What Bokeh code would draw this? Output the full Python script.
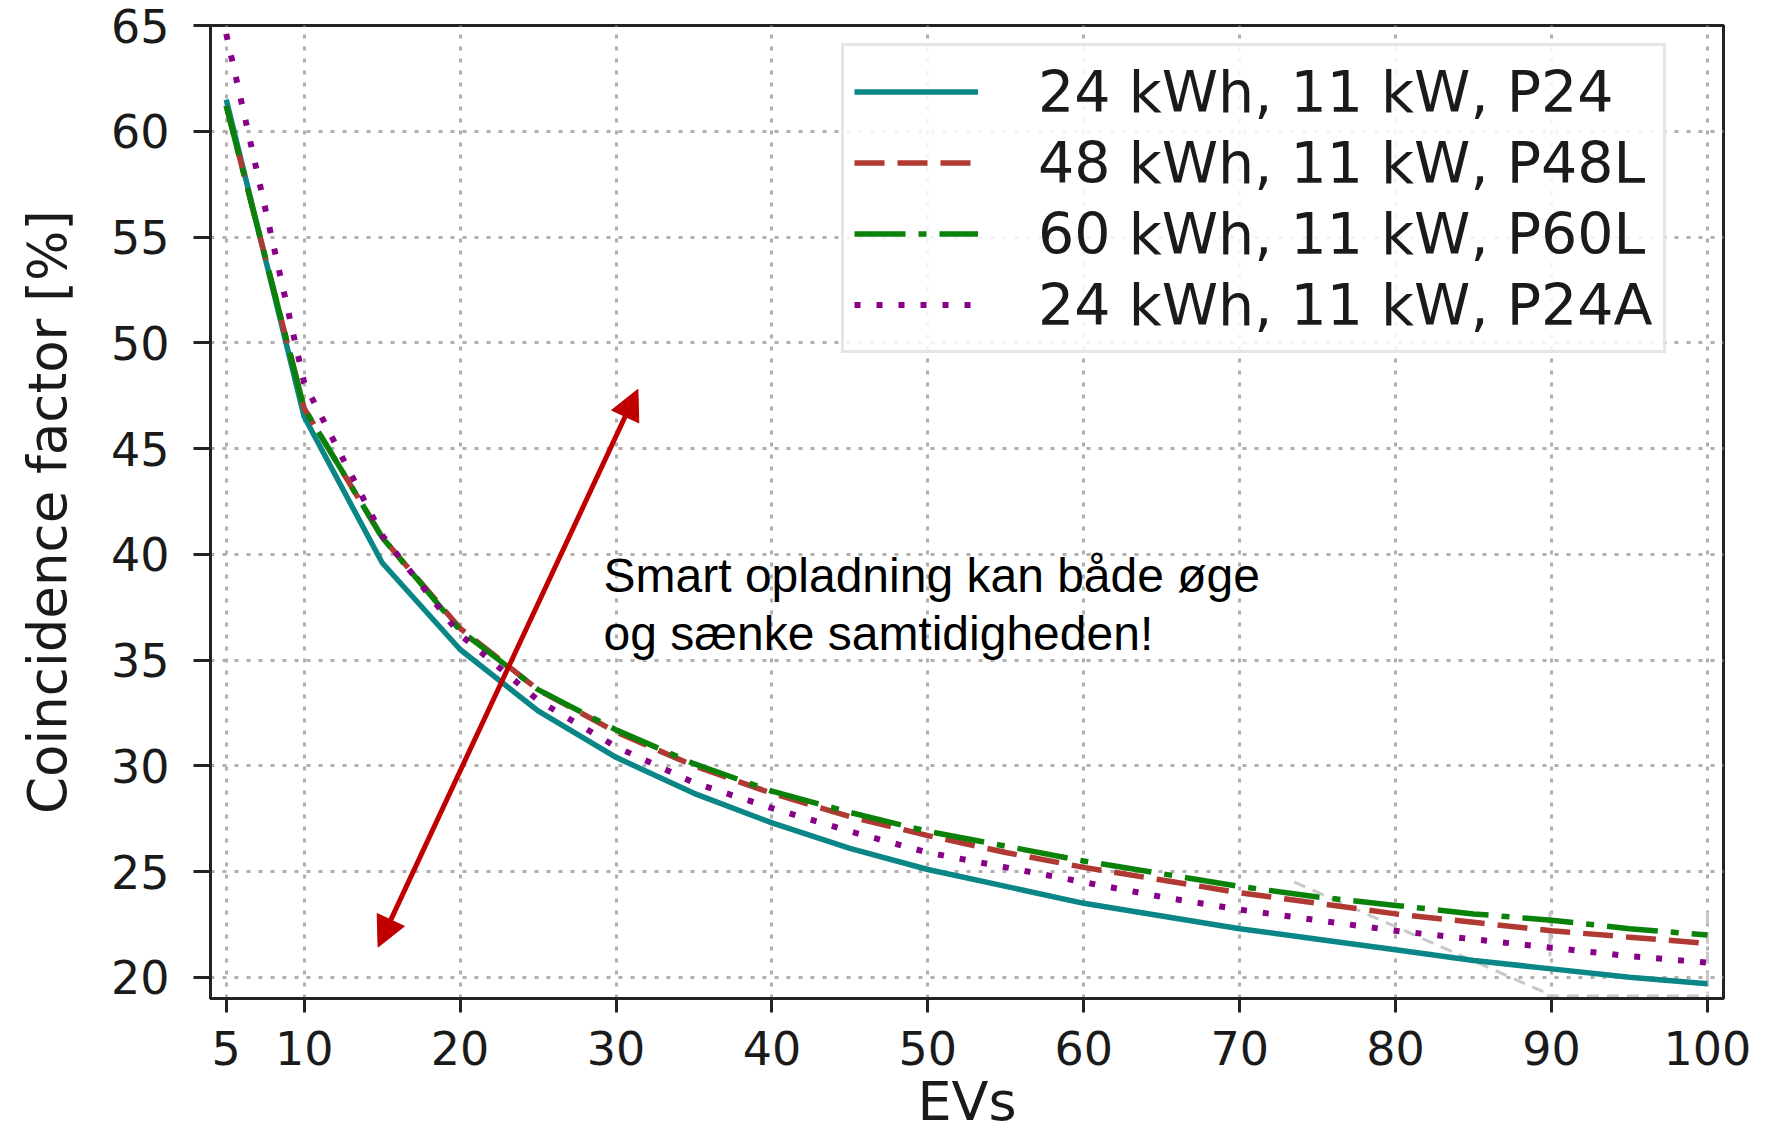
from bokeh.plotting import figure
from bokeh.models import Range1d, FixedTicker, Arrow, NormalHead, Label
from bokeh.embed import file_html
from bokeh.resources import INLINE

# ---- data ----
evs = [5, 10, 15, 20, 25, 30, 35, 40, 45, 50, 55, 60, 65, 70, 75, 80, 85, 90, 95, 100]
p24 = [61.5, 46.5, 39.6, 35.5, 32.6, 30.4, 28.7, 27.3, 26.1, 25.1,
       24.3, 23.5, 22.9, 22.3, 21.8, 21.3, 20.8, 20.4, 20.0, 19.7]
p48l = [61.2, 46.9, 40.8, 36.5, 33.6, 31.6, 30.0, 28.7, 27.6, 26.7,
        25.9, 25.2, 24.6, 24.0, 23.5, 23.0, 22.6, 22.2, 21.9, 21.6]
p60l = [61.2, 46.9, 40.8, 36.4, 33.6, 31.7, 30.1, 28.8, 27.8, 26.9,
        26.2, 25.5, 24.9, 24.3, 23.8, 23.4, 23.0, 22.7, 22.3, 22.0]
p24a = [64.6, 48.1, 40.9, 36.2, 33.1, 30.9, 29.2, 28.0, 26.9, 25.9,
        25.2, 24.5, 23.8, 23.2, 22.7, 22.2, 21.8, 21.4, 21.0, 20.7]
series_labels = ["24 kWh, 11 kW, P24", "48 kWh, 11 kW, P48L",
                 "60 kWh, 11 kW, P60L", "24 kWh, 11 kW, P24A"]
x_ticks = [5, 10, 20, 30, 40, 50, 60, 70, 80, 90, 100]
y_ticks = [20, 25, 30, 35, 40, 45, 50, 55, 60, 65]
x_title = "EVs"
y_title = "Coincidence factor [%]"

# annotation (arrow end points, text) in data coordinates
arrow_start = (14.74, 21.43)
arrow_end = (31.4, 47.8)
note_lines = ["Smart opladning kan både øge", "og sænke samtidigheden!"]
note_x = 29.2
note_y = [39.0, 36.25]

# faint grey pasted-shape remnant in the lower right of the reference
artifact_xs = [[73.5, 89.7], [89.7, 100.0], [100.0, 100.0], [89.9, 89.9]]
artifact_ys = [[24.5, 19.25], [19.12, 19.12], [23.1, 19.25], [23.1, 21.0]]

# ---- figure ----
p = figure(width=1765, height=1135,
           x_range=Range1d(3.99, 101.03), y_range=Range1d(19.0, 65.0),
           output_backend="svg", toolbar_location=None,
           min_border_left=210, min_border_right=42,
           min_border_top=25, min_border_bottom=137)
p.background_fill_color = "white"
p.border_fill_color = "white"
p.outline_line_color = "#222222"
p.outline_line_width = 3

TICK_FONT = "DejaVu Sans"
for ax in (p.xaxis[0], p.yaxis[0]):
    ax.axis_line_color = "#222222"
    ax.axis_line_width = 3
    ax.major_tick_line_color = "#222222"
    ax.major_tick_line_width = 3
    ax.major_tick_in = 0
    ax.minor_tick_line_color = None
    ax.major_label_text_font = TICK_FONT
    ax.major_label_text_font_size = "46px"
    ax.major_label_text_color = "#1a1a1a"
    ax.axis_label_text_font = TICK_FONT
    ax.axis_label_text_font_style = "normal"
    ax.axis_label_text_color = "#1a1a1a"

p.xaxis.ticker = FixedTicker(ticks=x_ticks)
p.yaxis.ticker = FixedTicker(ticks=y_ticks)
p.xaxis.major_tick_out = 14
p.xaxis.major_label_standoff = 18
p.yaxis.major_tick_out = 17
p.yaxis.major_label_standoff = 24

p.xaxis.axis_label = x_title
p.xaxis.axis_label_text_font_size = "54px"
p.xaxis.axis_label_standoff = 2

p.yaxis.axis_label = y_title
p.yaxis.axis_label_text_font_size = "53px"
p.yaxis.axis_label_standoff = 30

p.xgrid.ticker = FixedTicker(ticks=x_ticks)
p.ygrid.ticker = FixedTicker(ticks=y_ticks)
for g in (p.xgrid[0], p.ygrid[0]):
    g.grid_line_color = "#b0b0b0"
    g.grid_line_width = 3
    g.grid_line_dash = "4 8"

# remnant shape
p.multi_line(artifact_xs, artifact_ys, line_color="#c8c8c8", line_width=3,
             line_dash="12 8")

# ---- series ----
LW = 5.5
p.line(evs, p24, line_color="#0b8686", line_width=LW, legend_label=series_labels[0])
p.line(evs, p48l, line_color="#b03a33", line_width=LW, line_dash="30 13",
       legend_label=series_labels[1])
p.line(evs, p60l, line_color="#0a820a", line_width=LW, line_dash="51 13 8 13",
       legend_label=series_labels[2])
p.line(evs, p24a, line_color="#880088", line_width=6, line_dash="6 16",
       legend_label=series_labels[3])

# ---- arrow and note ----
red = "#c00000"
p.add_layout(Arrow(x_start=arrow_start[0], y_start=arrow_start[1],
                   x_end=arrow_end[0], y_end=arrow_end[1],
                   line_color=red, line_width=5,
                   start=NormalHead(size=30, fill_color=red, line_color=red),
                   end=NormalHead(size=30, fill_color=red, line_color=red)))
for txt, yy in zip(note_lines, note_y):
    p.add_layout(Label(x=note_x, y=yy, text=txt, text_font="Liberation Sans",
                       text_font_size="48px", text_color="black",
                       text_align="left", text_baseline="alphabetic"))

# ---- legend ----
lg = p.legend[0]
lg.location = (631, 645)
lg.margin = 0
lg.padding = 10
lg.spacing = 0
lg.glyph_width = 124
lg.glyph_height = 71
lg.label_height = 71
lg.label_standoff = 60
lg.label_text_font = TICK_FONT
lg.label_text_font_size = "57px"
lg.label_text_color = "#1a1a1a"
lg.border_line_color = "#cccccc"
lg.border_line_width = 3
lg.background_fill_color = "white"
lg.background_fill_alpha = 0.85

open("out.html", "w").write(file_html(p, INLINE))
